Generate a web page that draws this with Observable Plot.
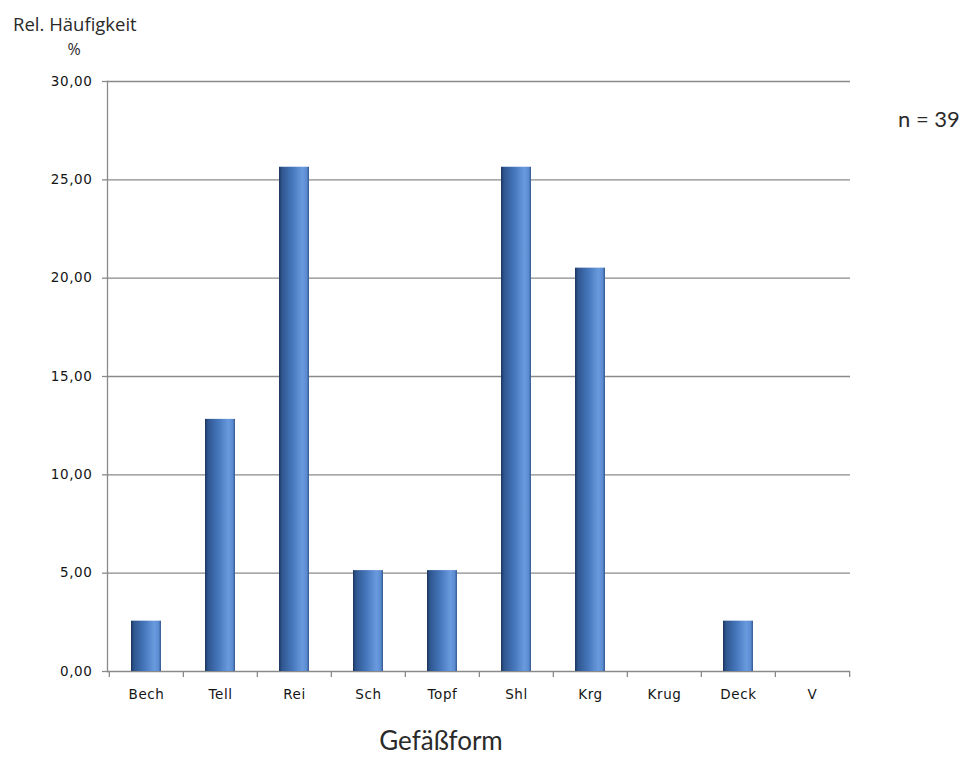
<!DOCTYPE html>
<html>
<head>
<meta charset="utf-8">
<script src="https://cdn.jsdelivr.net/npm/d3@7"></script>
<script src="https://cdn.jsdelivr.net/npm/@observablehq/plot@0.6"></script>
<style>
  html, body { margin: 0; padding: 0; background: #fff; }
  #wrap { position: relative; width: 965px; height: 757px; overflow: hidden; }
  #chart { position: absolute; left: 0; top: 0; }
  #overlay { position: absolute; left: 0; top: 0; pointer-events: none; }
  #overlay text { font-family: Lato, "Open Sans", sans-serif; fill: #2a2a2a; }
  #chart g[aria-label="y-axis tick label"] text,
  #chart g[aria-label="x-axis tick label"] text {
    font-family: "DejaVu Sans", sans-serif; font-size: 13.5px; letter-spacing: 0.6px; fill: #151515;
  }
</style>
</head>
<body>
<div id="wrap">
  <div id="chart"></div>
  <svg id="overlay" width="965" height="757">
    <text x="13" y="31" font-size="18.5" style="font-family:'Open Sans',sans-serif">Rel. Häufigkeit</text>
    <text x="74" y="55" font-size="16" text-anchor="middle" style="font-family:'Open Sans',sans-serif">%</text>
    <text x="898" y="127" font-size="22" fill="#111">n = 39</text>
    <text x="441" y="750" font-size="26" text-anchor="middle">Gefäßform</text>
  </svg>
</div>
<script>
// Data
const categories = ["Bech", "Tell", "Rei", "Sch", "Topf", "Shl", "Krg", "Krug", "Deck", "V"];
const values = [2.56, 12.82, 25.64, 5.13, 5.13, 25.64, 20.51, 0, 2.56, 0];
const yTicks = [0, 5, 10, 15, 20, 25, 30];

const data = categories.map((c, i) => ({ cat: c, val: values[i] }));

const W = 965, H = 757;
const ML = 107, MR = 115, MT = 81, MB = 86;
const padIn = 0.6, padOut = 0.3;
const step = (W - ML - MR) / (categories.length - padIn + 2 * padOut);

const fmt = d => d.toFixed(2).replace(".", ",");
const gray = "#8a8a8a";

const defs = () => {
  const d = d3.create("svg:defs");
  const g = d.append("linearGradient").attr("id", "barGrad")
    .attr("x1", 0).attr("x2", 1).attr("y1", 0).attr("y2", 0);
  [[0, "#1d355e"], [0.1, "#2f5690"], [0.45, "#4677bc"], [0.78, "#6a9ade"], [0.92, "#5b8bd1"], [1, "#35598f"]]
    .forEach(([o, c]) => g.append("stop").attr("offset", o).attr("stop-color", c));
  return d.node();
};

const plot = Plot.plot({
  width: W,
  height: H,
  marginLeft: ML,
  marginRight: MR,
  marginTop: MT,
  marginBottom: MB,
  style: { fontFamily: "'DejaVu Sans', sans-serif", fontSize: "13.5px", color: "#222", background: "white" },
  x: { domain: categories, paddingInner: padIn, paddingOuter: padOut, label: null },
  y: { domain: [0, 30], label: null },
  marks: [
    defs,
    Plot.gridY(yTicks, { stroke: gray, strokeOpacity: 1, strokeWidth: 1.3 }),
    Plot.frame({ anchor: "left", stroke: gray, strokeWidth: 1.3 }),
    Plot.axisY({
      ticks: yTicks, tickFormat: fmt, tickSize: 5, tickPadding: 10,
      stroke: gray, strokeWidth: 1.3
    }),
    Plot.axisX({ tickSize: 0, tickPadding: 18 }),
    // x-axis tick marks at category boundaries
    Plot.ruleX(categories, { x: d => d, y1: 0, y2: 0, insetBottom: -6, dx: -step / 2, stroke: gray, strokeWidth: 1.3 }),
    Plot.ruleX(categories.slice(-1), { x: d => d, y1: 0, y2: 0, insetBottom: -6, dx: step / 2, stroke: gray, strokeWidth: 1.3 }),
    Plot.barY(data.filter(d => d.val > 0), { x: "cat", y: "val", fill: "url(#barGrad)" })
  ]
});

document.getElementById("chart").appendChild(plot);
</script>
</body>
</html>
